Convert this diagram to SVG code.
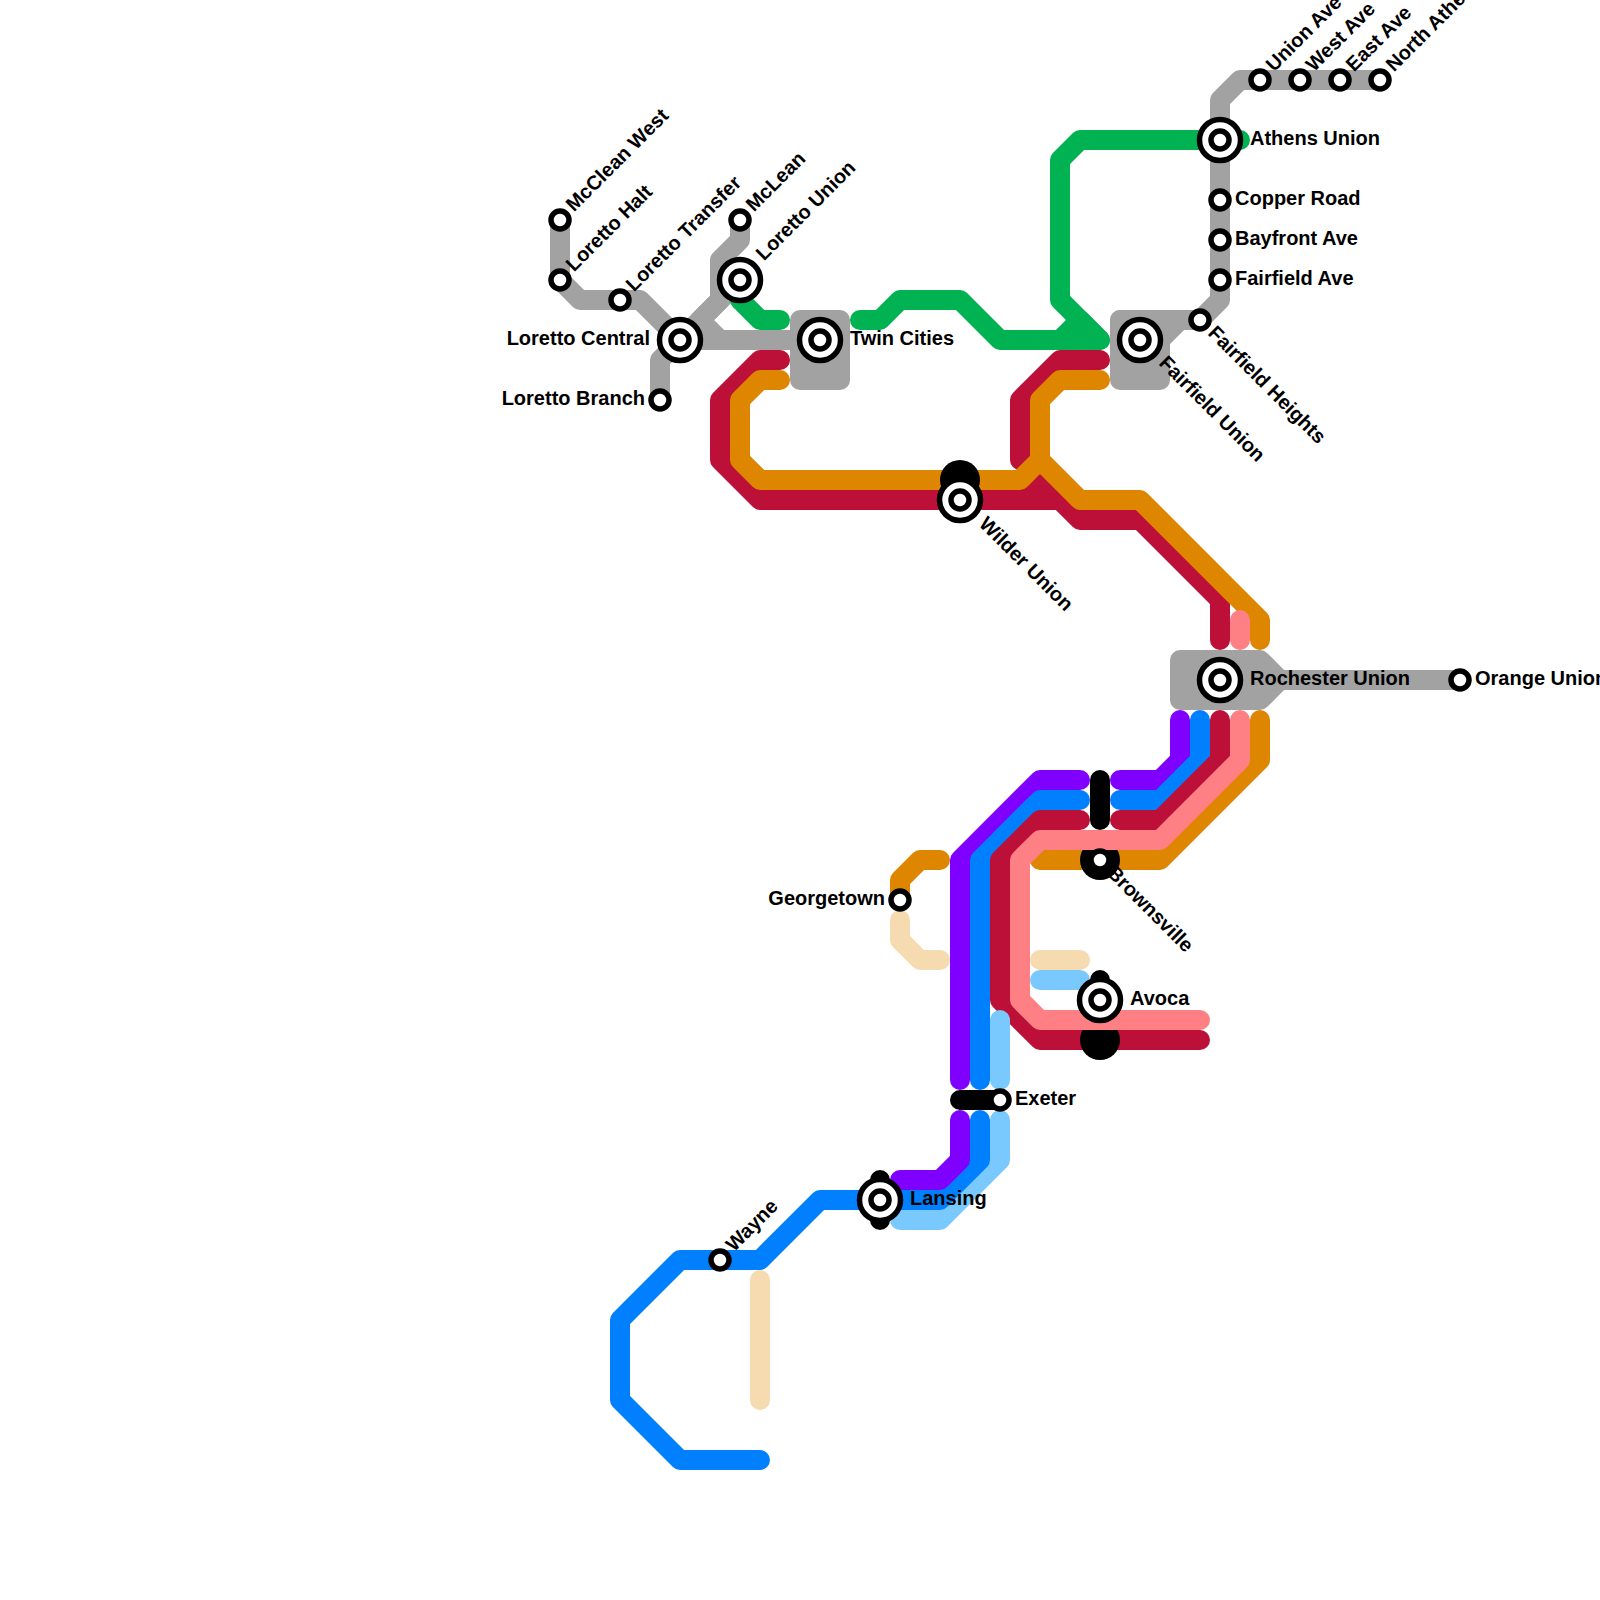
<svg xmlns="http://www.w3.org/2000/svg" width="1600" height="1600" viewBox="0 0 1600 1600">
<style>
.l{fill:none;stroke-width:20;stroke-linecap:round;stroke-linejoin:round}
.gy{stroke:#a2a2a2}.gn{stroke:#00b251}.rd{stroke:#bd1038}.or{stroke:#df8600}.pk{stroke:#ff8084}.pu{stroke:#8000ff}.bl{stroke:#0080ff}.lb{stroke:#79c9ff}.be{stroke:#f6dbb1}.bk{stroke:#000}
.blob{fill:#000}
.o{fill:#fff;stroke:#000;stroke-width:5.5}
text{font-family:"Liberation Sans",Arial,sans-serif;font-weight:700;font-size:20px;fill:#000}
.e{text-anchor:end}
</style>
<defs>
<g id="st"><circle class="o" r="9"/></g>
<g id="ic"><circle class="o" r="20.5"/><circle class="o" r="9"/></g>
</defs>
<rect width="1600" height="1600" fill="#fff"/>
<g id="connectors">
<path class="l gy" d="M560 220V280L580 300H640L680 340"/>
<path class="l gy" d="M740 220V240L720 260V300L680 340"/>
<path class="l gy" d="M740 280L700 320L720 340H820"/>
<path class="l gy" d="M660 400V360L680 340H820"/>
<rect x="790" y="310" width="60" height="80" rx="10" fill="#a2a2a2"/>
<rect x="1110" y="310" width="60" height="80" rx="10" fill="#a2a2a2"/>
<path class="l gy" d="M1120 320H1200L1220 300V100L1240 80H1380"/>
<path class="l gy" d="M1140 360L1180 320"/>
<path class="l gy" d="M1180 660H1260L1280 680L1260 700H1180Z" style="fill:#a2a2a2"/>
<path class="l gy" d="M1280 680H1460"/>
<path class="l gn" d="M740 300L760 320H780"/>
<path class="l gn" d="M860 320H880L900 300H960L1000 340H1100L1060 300V160L1080 140H1240"/>
<path class="l gn" d="M1060 340L1080 320L1100 340Z" style="fill:#00b251"/>
<path class="l rd" d="M780 360H760L720 400V460L760 500H1060L1080 520H1140L1220 600V640"/>
<path class="l rd" d="M1100 360H1060L1020 400V460"/>
<path class="l rd" d="M1020 500L1040 480L1060 500"/>
<path class="l or" d="M780 380H760L740 400V460L760 480H1020L1040 460V400L1060 380H1100"/>
<path class="l or" d="M1040 460L1080 500H1140L1260 620V640"/>
<path class="l pk" d="M1240 620V640"/>
<path class="l pu" d="M1180 720V760L1160 780H1120"/>
<path class="l bl" d="M1200 720V760L1160 800H1120"/>
<path class="l rd" d="M1220 720V760L1160 820H1120"/>
<path class="l or" d="M1260 720V760L1160 860H1040"/>
<path class="l pu" d="M1080 780H1040L960 860V1080"/>
<path class="l bl" d="M1080 800H1040L980 860V1080"/>
<path class="l rd" d="M1080 820H1040L1000 860V1000L1040 1040H1200"/>
<circle class="blob" cx="1100" cy="860" r="20"/>
<circle class="blob" cx="1100" cy="1040" r="20"/>
<path class="l pk" d="M1240 720V760L1160 840H1040L1020 860V1000L1040 1020H1200"/>
<path class="l bk" d="M1100 780V820"/>
<path class="l be" d="M1040 960H1080"/>
<path class="l lb" d="M1040 980H1080"/>
<path class="l bk" d="M1100 980V1000"/>
<path class="l lb" d="M1000 1020V1080"/>
<path class="l bk" d="M960 1100H1000"/>
<path class="l or" d="M900 900V880L920 860H940"/>
<path class="l be" d="M900 920V940L920 960H940"/>
<path class="l be" d="M760 1280V1400"/>
<path class="l lb" d="M1000 1120V1160L940 1220H900"/>
<path class="l bl" d="M980 1120V1160L940 1200H820L760 1260H680L620 1320V1400L680 1460H760"/>
<path class="l pu" d="M960 1120V1160L940 1180H900"/>
<path class="l bk" d="M880 1180V1220"/>
<circle class="blob" cx="960" cy="480" r="20"/>
</g>
<g id="mcclean-west"><use href="#st" x="560" y="220"/><text transform="translate(574 212.5) rotate(-45)">McClean West</text></g>
<g id="loretto-halt"><use href="#st" x="560" y="280"/><text transform="translate(574 272.5) rotate(-45)">Loretto Halt</text></g>
<g id="loretto-transfer"><use href="#st" x="620" y="300"/><text transform="translate(634 292.5) rotate(-45)">Loretto Transfer</text></g>
<g id="mclean"><use href="#st" x="740" y="220"/><text transform="translate(754 212.5) rotate(-45)">McLean</text></g>
<g id="loretto-union"><use href="#ic" x="740" y="280"/><text transform="translate(764 261.5) rotate(-45)">Loretto Union</text></g>
<g id="loretto-central"><use href="#ic" x="680" y="340"/><text class="e" x="650" y="345">Loretto Central</text></g>
<g id="loretto-branch"><use href="#st" x="660" y="400"/><text class="e" x="645" y="405">Loretto Branch</text></g>
<g id="twin-cities"><use href="#ic" x="820" y="340"/><text x="850" y="345">Twin Cities</text></g>
<g id="wilder-union"><use href="#ic" x="960" y="500"/><text transform="translate(978 525) rotate(45)">Wilder Union</text></g>
<g id="fairfield-union"><use href="#ic" x="1140" y="340"/><text transform="translate(1158 364) rotate(45)">Fairfield Union</text></g>
<g id="fairfield-heights"><use href="#st" x="1200" y="320"/><text transform="translate(1207 334) rotate(45)">Fairfield Heights</text></g>
<g id="fairfield-ave"><use href="#st" x="1220" y="280"/><text x="1235" y="285">Fairfield Ave</text></g>
<g id="bayfront-ave"><use href="#st" x="1220" y="240"/><text x="1235" y="245">Bayfront Ave</text></g>
<g id="copper-road"><use href="#st" x="1220" y="200"/><text x="1235" y="205">Copper Road</text></g>
<g id="athens-union"><use href="#ic" x="1220" y="140"/><text x="1250" y="145">Athens Union</text></g>
<g id="union-ave"><use href="#st" x="1260" y="80"/><text transform="translate(1274 72.5) rotate(-45)">Union Ave</text></g>
<g id="west-ave"><use href="#st" x="1300" y="80"/><text transform="translate(1314 72.5) rotate(-45)">West Ave</text></g>
<g id="east-ave"><use href="#st" x="1340" y="80"/><text transform="translate(1354 72.5) rotate(-45)">East Ave</text></g>
<g id="north-athens"><use href="#st" x="1380" y="80"/><text transform="translate(1394 72.5) rotate(-45)">North Athens</text></g>
<g id="rochester-union"><use href="#ic" x="1220" y="680"/><text x="1250" y="685">Rochester Union</text></g>
<g id="orange-union"><use href="#st" x="1460" y="680"/><text x="1475" y="685">Orange Union</text></g>
<g id="brownsville"><use href="#st" x="1100" y="860"/><text transform="translate(1106 874) rotate(45)">Brownsville</text></g>
<g id="avoca"><use href="#ic" x="1100" y="1000"/><text x="1130" y="1005">Avoca</text></g>
<g id="georgetown"><use href="#st" x="900" y="900"/><text class="e" x="885" y="905">Georgetown</text></g>
<g id="exeter"><use href="#st" x="1000" y="1100"/><text x="1015" y="1105">Exeter</text></g>
<g id="lansing"><use href="#ic" x="880" y="1200"/><text x="910" y="1205">Lansing</text></g>
<g id="wayne"><use href="#st" x="720" y="1260"/><text transform="translate(734 1252.5) rotate(-45)">Wayne</text></g>
</svg>
